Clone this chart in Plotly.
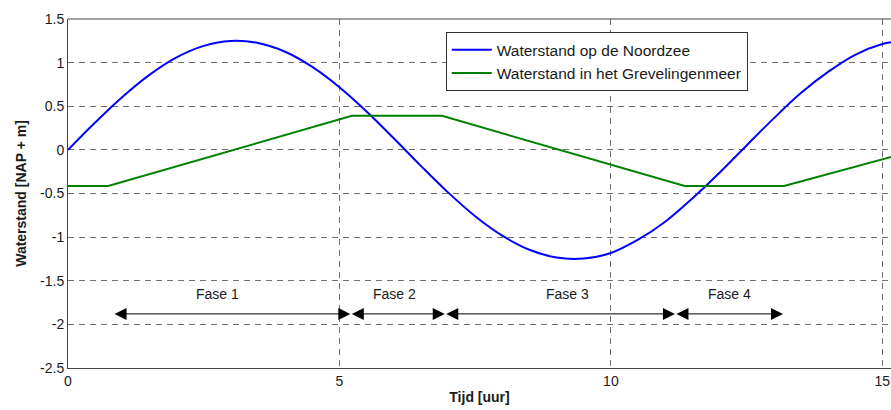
import plotly.graph_objects as go

# Time axis (hours) and read-off water levels
t_noordzee = [0, 0.5, 1.0, 1.5, 2.0, 2.5, 3.0, 3.5, 4.0, 4.5, 5.0, 5.5, 6.0, 6.5, 7.0,
              7.5, 8.0, 8.5, 9.0, 9.5, 10.0, 10.5, 11.0, 11.5, 12.0, 12.5, 13.0, 13.5,
              14.0, 14.5, 15.0, 15.2]
h_noordzee = [0.0, 0.313, 0.606, 0.860, 1.060, 1.192, 1.248, 1.225, 1.125, 0.951, 0.718,
              0.440, 0.133, -0.183, -0.487, -0.760, -0.983, -1.145, -1.234, -1.245, -1.182,
              -1.030, -0.824, -0.558, -0.263, 0.051, 0.361, 0.651, 0.894, 1.090, 1.213, 1.236]

t_grevelingen = [0, 0.74, 5.23, 6.89, 11.36, 13.19, 15.2]
h_grevelingen = [-0.415, -0.415, 0.39, 0.39, -0.415, -0.415, -0.075]

series_names = ["Waterstand op de Noordzee", "Waterstand in het Grevelingenmeer"]

fase_labels = ["Fase 1", "Fase 2", "Fase 3", "Fase 4"]
fase_start = [0.83, 5.2, 6.94, 11.18]
fase_end = [5.2, 6.94, 11.18, 13.17]
fase_label_x = [2.76, 6.02, 9.2, 12.19]
fase_arrow_y = -1.88
fase_label_y = -1.65

x_ticks = [0, 5, 10, 15]
y_ticks = [-2.5, -2, -1.5, -1, -0.5, 0, 0.5, 1, 1.5]
y_ticktext = ["-2.5", "-2", "-1.5", "-1", "-0.5", "0", "0.5", "1", "1.5"]

FONT = "Liberation Sans, Arial, sans-serif"

fig = go.Figure()
fig.add_trace(go.Scatter(x=t_noordzee, y=h_noordzee, mode="lines", name=series_names[0],
                         line=dict(color="#0000ff", width=2, shape="spline", smoothing=1.0)))
fig.add_trace(go.Scatter(x=t_grevelingen, y=h_grevelingen, mode="lines", name=series_names[1],
                         line=dict(color="#008000", width=2)))

annotations = []
for lab, xs, xe, xl in zip(fase_labels, fase_start, fase_end, fase_label_x):
    annotations.append(dict(x=xe, y=fase_arrow_y, ax=xs, ay=fase_arrow_y, xref="x", yref="y",
                            axref="x", ayref="y", text="", showarrow=True, arrowhead=2,
                            startarrowhead=2, arrowside="end+start", arrowsize=2.4,
                            startarrowsize=2.4, arrowwidth=1, arrowcolor="#000000",
                            standoff=0, startstandoff=0))
    annotations.append(dict(x=xl, y=fase_label_y, xref="x", yref="y", text=lab, showarrow=False,
                            font=dict(family=FONT, size=14, color="#1a1a1a")))

grid = dict(showgrid=True, gridcolor="#707070", gridwidth=1, griddash="6px,5px")

fig.update_layout(
    width=891, height=410,
    margin=dict(l=68, r=0, t=19, b=42),
    plot_bgcolor="white", paper_bgcolor="white",
    font=dict(family=FONT, size=14, color="#1a1a1a"),
    showlegend=True,
    legend=dict(x=0.459, y=0.962, xanchor="left", yanchor="top",
                bgcolor="white", bordercolor="#333333", borderwidth=1,
                font=dict(family=FONT, size=15.5, color="#1a1a1a"),
                itemwidth=40, tracegroupgap=0),
    annotations=annotations,
    xaxis=dict(range=[0, 15.16], tickvals=x_ticks, ticktext=[str(v) for v in x_ticks],
               showline=True, linecolor="#444444", linewidth=1, zeroline=False,
               ticks="", tickfont=dict(size=14), automargin=False, ticklabeloverflow="allow",
               title=dict(text="<b>Tijd [uur]</b>", font=dict(size=14), standoff=4), **grid),
    yaxis=dict(range=[-2.5, 1.5], tickvals=y_ticks, ticktext=y_ticktext,
               showline=True, linecolor="#444444", linewidth=1, zeroline=False,
               ticks="", tickfont=dict(size=14), automargin=False,
               title=dict(text="<b>Waterstand [NAP + m]</b>", font=dict(size=14), standoff=10),
               **grid),
    shapes=[dict(type="line", xref="paper", yref="paper", x0=0, x1=1, y0=1, y1=1,
                 line=dict(color="#444444", width=1))],
)

# remove the default 8px page margin so the figure fills the window exactly
fig.write_html("out.html", config={"displayModeBar": False},
               post_script="document.body.style.margin='0';document.body.style.overflow='hidden';")
